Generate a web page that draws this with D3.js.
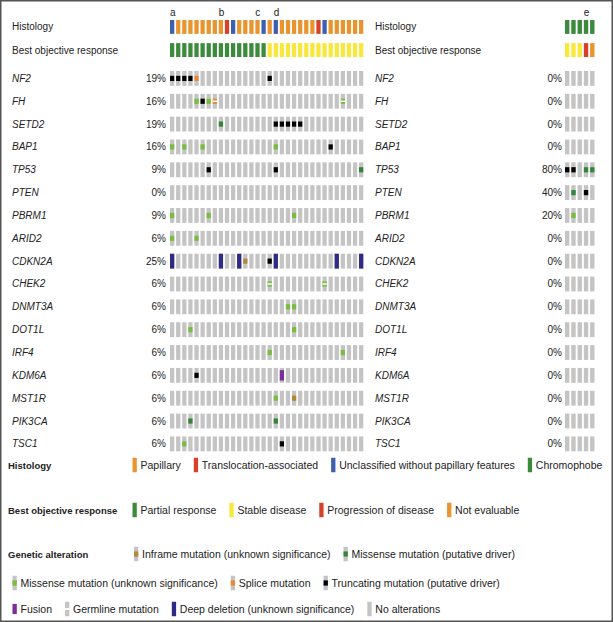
<!DOCTYPE html>
<html>
<head>
<meta charset="UTF-8">
<title>Oncoprint</title>
<style>
  body { margin: 0; background: #fff; }
  svg { display: block; font-family: "Liberation Sans", Arial, sans-serif; }
</style>
</head>
<body>
<svg width="613" height="622"></svg>
<script src="https://d3js.org/d3.v7.min.js"></script>
<script>
// ---- data ----
const genes = ["NF2", "FH", "SETD2", "BAP1", "TP53", "PTEN", "PBRM1", "ARID2", "CDKN2A",
  "CHEK2", "DNMT3A", "DOT1L", "IRF4", "KDM6A", "MST1R", "PIK3CA", "TSC1"];
const leftPct = ["19%", "16%", "19%", "16%", "9%", "0%", "9%", "6%", "25%",
  "6%", "6%", "6%", "6%", "6%", "6%", "6%", "6%"];
const rightPct = ["0%", "0%", "0%", "0%", "80%", "40%", "20%", "0%", "0%",
  "0%", "0%", "0%", "0%", "0%", "0%", "0%", "0%"];

// P papillary, T translocation, U unclassified, C chromophobe
const leftHistology = ["U", "P", "P", "P", "P", "P", "P", "P", "P", "T", "U", "P", "P", "P", "P", "U",
  "P", "U", "P", "P", "P", "P", "P", "P", "T", "U", "P", "P", "P", "P", "P", "P"];
// PR partial, SD stable, PD progression, NE not evaluable
const leftResponse = ["PR", "PR", "PR", "PR", "PR", "PR", "PR", "PR", "PR", "PR", "PR", "PR", "PR", "PR", "PR", "PR",
  "SD", "SD", "SD", "SD", "SD", "SD", "SD", "SD", "SD", "SD", "SD", "SD", "SD", "SD", "SD", "SD"];
const rightHistology = ["C", "C", "C", "C", "C"];
const rightResponse = ["SD", "SD", "SD", "PD", "NE"];

const leftCaseLabels = [["a", 0], ["b", 8], ["c", 14], ["d", 17]];
const rightCaseLabels = [["e", 3]];

// [gene, column, alteration, germline]
// TR truncating, MD missense driver, MU missense unknown, SP splice, IF inframe, FU fusion, DD deep deletion
const leftAlterations = [
  ["NF2", 0, "TR"], ["NF2", 1, "TR"], ["NF2", 2, "TR"], ["NF2", 3, "TR"], ["NF2", 4, "SP"], ["NF2", 16, "TR"],
  ["FH", 4, "MU"], ["FH", 5, "TR"], ["FH", 6, "MU"], ["FH", 7, "SP", true], ["FH", 28, "MU", true],
  ["SETD2", 8, "MD"], ["SETD2", 17, "TR"], ["SETD2", 18, "TR"], ["SETD2", 19, "TR"], ["SETD2", 20, "TR"], ["SETD2", 21, "TR"],
  ["BAP1", 0, "MU"], ["BAP1", 2, "MU"], ["BAP1", 5, "MU"], ["BAP1", 17, "MU"], ["BAP1", 26, "TR"],
  ["TP53", 6, "TR"], ["TP53", 17, "TR"], ["TP53", 31, "MD"],
  ["PBRM1", 0, "MU"], ["PBRM1", 6, "MU"], ["PBRM1", 20, "MU"],
  ["ARID2", 0, "MU"], ["ARID2", 4, "MU"],
  ["CDKN2A", 0, "DD"], ["CDKN2A", 8, "DD"], ["CDKN2A", 11, "DD"], ["CDKN2A", 12, "IF"], ["CDKN2A", 16, "TR"],
  ["CDKN2A", 17, "DD"], ["CDKN2A", 27, "DD"], ["CDKN2A", 31, "DD"],
  ["CHEK2", 16, "MU", true], ["CHEK2", 25, "MU", true],
  ["DNMT3A", 19, "MU"], ["DNMT3A", 20, "MU"],
  ["DOT1L", 3, "MU"], ["DOT1L", 20, "MU"],
  ["IRF4", 16, "MU"], ["IRF4", 28, "MU"],
  ["KDM6A", 4, "TR"], ["KDM6A", 18, "FU"],
  ["MST1R", 17, "MU"], ["MST1R", 20, "IF"],
  ["PIK3CA", 3, "MD"], ["PIK3CA", 17, "MD"],
  ["TSC1", 2, "MU"], ["TSC1", 18, "TR"]
];
const rightAlterations = [
  ["TP53", 0, "TR"], ["TP53", 1, "TR"], ["TP53", 3, "MD"], ["TP53", 4, "MD"],
  ["PTEN", 1, "MD"], ["PTEN", 3, "TR"],
  ["PBRM1", 1, "MU"]
];

const histologyLegend = [["P", "Papillary"], ["T", "Translocation-associated"],
  ["U", "Unclassified without papillary features"], ["C", "Chromophobe"]];
const responseLegend = [["PR", "Partial response"], ["SD", "Stable disease"],
  ["PD", "Progression of disease"], ["NE", "Not evaluable"]];
const alterationLegend = [
  [["IF", "Inframe mutation (unknown significance)"], ["MD", "Missense mutation (putative driver)"]],
  [["MU", "Missense mutation (unknown significance)"], ["SP", "Splice mutation"], ["TR", "Truncating mutation (putative driver)"]],
  [["FU", "Fusion"], ["GL", "Germline mutation"], ["DD", "Deep deletion (unknown significance)"], ["NONE", "No alterations"]]
];

// ---- styles ----
const histColor = { P: "#e8952f", T: "#d7412b", U: "#3c60ad", C: "#3c8a3b" };
const respColor = { PR: "#3c8a3b", SD: "#f8e83c", PD: "#d7412b", NE: "#e8952f" };
const altColor = { TR: "#000000", MD: "#35843a", MU: "#79bd40", SP: "#ea8637", IF: "#b08939", FU: "#7b2f98", DD: "#2e2a87" };
const gray = "#c4c4c4";
const textColor = "#222";

const svg = d3.select("svg");

svg.append("rect").attr("x", 0.75).attr("y", 0.75).attr("width", 611.5).attr("height", 620.5)
  .attr("fill", "none").attr("stroke", "#555").attr("stroke-width", 1.5);

// scales
const xLeft = d3.scaleBand().domain(d3.range(leftHistology.length)).range([170, 363.3]).paddingInner(0.3).paddingOuter(0);
const xRight = d3.scaleBand().domain(d3.range(rightHistology.length)).range([565, 594.5]).paddingInner(0.3).paddingOuter(0);
const yTop = d3.scaleBand().domain(["Histology", "Best objective response"]).range([20, 57]).paddingInner(0.4);
const yGene = d3.scaleBand().domain(genes).range([71, 451.3]).paddingInner(0.35).paddingOuter(0);

function drawPanel(x, labelX, pctX, pct, histology, response, alterations, caseLabels) {
  const g = svg.append("g");
  const topRows = [["Histology", histology, histColor], ["Best objective response", response, respColor]];
  topRows.forEach(([name, vals, colors]) => {
    g.append("text").attr("x", labelX).attr("y", yTop(name) + yTop.bandwidth() / 2 + 3.5)
      .attr("font-size", 10).attr("fill", textColor).text(name);
    g.selectAll(null).data(vals).join("rect")
      .attr("x", (d, i) => x(i)).attr("y", yTop(name))
      .attr("width", x.bandwidth()).attr("height", yTop.bandwidth())
      .attr("fill", d => colors[d]);
  });
  g.selectAll(null).data(caseLabels).join("text")
    .attr("x", d => x(d[1])).attr("y", 16)
    .attr("font-size", 10).attr("fill", textColor).text(d => d[0]);

  genes.forEach((gene, gi) => {
    const cy = yGene(gene) + yGene.bandwidth() / 2;
    g.append("text").attr("x", labelX).attr("y", cy + 3.5)
      .attr("font-size", 10).attr("font-style", "italic").attr("fill", textColor).text(gene);
    g.append("text").attr("x", pctX).attr("y", cy + 3.5).attr("text-anchor", "end")
      .attr("font-size", 10).attr("fill", textColor).text(pct[gi]);
    g.selectAll(null).data(x.domain()).join("rect")
      .attr("x", d => x(d)).attr("y", yGene(gene))
      .attr("width", x.bandwidth()).attr("height", yGene.bandwidth())
      .attr("fill", gray);
  });

  alterations.forEach(([gene, col, type, germ]) => {
    const y0 = yGene(gene), h = yGene.bandwidth();
    drawMark(g, x(col), y0, x.bandwidth(), h, type, germ);
  });
}

function drawMark(g, x0, y0, w, h, type, germ) {
  const cy = y0 + h / 2;
  if (type === "DD") {
    g.append("rect").attr("x", x0).attr("y", y0).attr("width", w).attr("height", h).attr("fill", altColor.DD);
  } else if (type === "FU") {
    g.append("rect").attr("x", x0).attr("y", cy - h * 0.35).attr("width", w).attr("height", h * 0.7).attr("fill", altColor.FU);
  } else if (altColor[type]) {
    g.append("rect").attr("x", x0).attr("y", cy - 2.6).attr("width", w).attr("height", 5.2).attr("fill", altColor[type]);
  }
  if (germ) {
    g.append("rect").attr("x", x0).attr("y", cy - 0.75).attr("width", w).attr("height", 1.5).attr("fill", "#fff");
  }
}

drawPanel(xLeft, 12, 166, leftPct, leftHistology, leftResponse, leftAlterations, leftCaseLabels);
drawPanel(xRight, 375, 562, rightPct, rightHistology, rightResponse, rightAlterations, rightCaseLabels);

// ---- legend ----
const legend = svg.append("g").attr("font-size", 10.5).attr("fill", textColor);
const swW = 4.3, swH = 14.5;

function legendRow(items, startX, cy, drawSwatch) {
  let cx = startX;
  items.forEach(([key, label]) => {
    drawSwatch(cx, cy - swH / 2, key);
    const t = legend.append("text").attr("x", cx + 8).attr("y", cy + 3.7).text(label);
    cx += 8 + t.node().getComputedTextLength() + 13;
  });
}
function header(text, cy) {
  legend.append("text").attr("x", 8).attr("y", cy + 3.5).attr("font-weight", "bold")
    .attr("font-size", 9.5).text(text);
}

header("Histology", 465);
legendRow(histologyLegend, 132.5, 465, (x0, y0, k) =>
  legend.append("rect").attr("x", x0).attr("y", y0).attr("width", swW).attr("height", swH).attr("fill", histColor[k]));

header("Best objective response", 510);
legendRow(responseLegend, 132.5, 510, (x0, y0, k) =>
  legend.append("rect").attr("x", x0).attr("y", y0).attr("width", swW).attr("height", swH).attr("fill", respColor[k]));

header("Genetic alteration", 554);
const altSwatch = (x0, y0, k) => {
  if (k !== "DD" && k !== "FU") {
    legend.append("rect").attr("x", x0).attr("y", y0).attr("width", swW).attr("height", swH).attr("fill", gray);
  }
  drawMark(legend, x0, y0, swW, swH, k === "GL" ? "NONE" : k, k === "GL");
  if (k === "GL") {
    legend.append("rect").attr("x", x0).attr("y", y0 + swH / 2 - 1).attr("width", swW).attr("height", 2).attr("fill", "#fff");
  }
};
legendRow(alterationLegend[0], 134, 554, altSwatch);
legendRow(alterationLegend[1], 12.5, 583, altSwatch);
legendRow(alterationLegend[2], 12.5, 609, altSwatch);
</script>
</body>
</html>
